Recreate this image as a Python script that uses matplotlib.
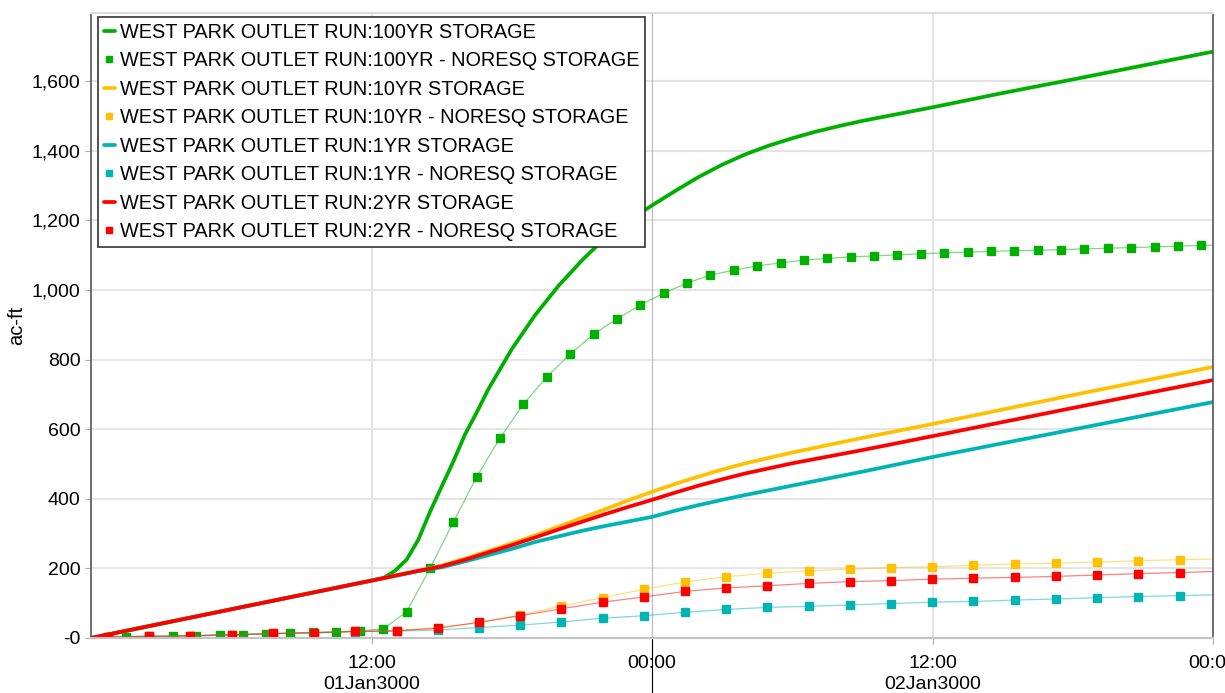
import numpy as np
import matplotlib.pyplot as plt
from matplotlib.transforms import blended_transform_factory

plt.rcParams['font.family'] = ['Liberation Sans', 'DejaVu Sans']

# hours since 01Jan3000 00:00
t_100 = [0, 12, 12.5, 13, 13.5, 14, 14.5, 15, 15.5, 16, 16.5, 17, 18, 19, 20, 21, 22, 23,
         24, 25, 26, 27, 28, 29, 30, 31, 32, 33, 36, 39, 42, 45, 48]
s_100 = [0, 165, 172, 193, 225, 282, 362, 435, 507, 585, 648, 715, 830, 928, 1012, 1085, 1150, 1200,
         1243, 1285, 1325, 1360, 1390, 1415, 1436, 1455, 1471, 1486, 1525, 1566, 1605, 1645, 1685]

t_low = [0, 12, 14, 15, 16, 17, 18, 19, 20, 21, 22, 23, 24, 25, 26, 27, 28, 30, 33, 36, 42, 48]
s_10 = [0, 165, 193, 208, 228, 250, 272, 295, 320, 345, 370, 396, 420, 443, 464, 484, 502, 533,
        575, 615, 698, 779]
s_2 = [0, 165, 193, 206, 225, 246, 267, 289, 312, 334, 356, 377, 397, 418, 438, 456, 473, 502,
       540, 580, 661, 741]
s_1 = [0, 165, 192, 203, 220, 238, 256, 276, 292, 308, 322, 335, 348, 366, 382, 397, 411, 438,
       478, 520, 599, 678]

# NORESQ runs, sampled values
t_nr100 = np.arange(1.5, 48, 1.0)
nr_100 = [3, 4, 5, 7, 9, 10, 12, 14, 16, 18, 20, 26, 75, 200, 333, 463, 575, 672, 750, 816,
          873, 917, 957, 991, 1020, 1043, 1057, 1069, 1078, 1086, 1091, 1095, 1098, 1101, 1104,
          1107, 1109, 1111, 1113, 1114, 1116, 1118, 1120, 1122, 1124, 1126, 1128]
nr100_end = 1129

t_nr = 0.73 + 1.763 * np.arange(27)
nr_10 = [3, 5, 6, 9, 13, 15, 19, 21, 30, 44, 66, 92, 116, 140, 161, 176, 186, 193, 198, 202,
         205, 209, 213, 215, 218, 222, 225]
nr_2 = [3, 5, 6, 9, 13, 15, 19, 21, 28, 45, 64, 84, 103, 118, 134, 144, 150, 157, 162, 165,
        169, 172, 174, 177, 181, 185, 188]
nr_1 = [3, 5, 6, 9, 12, 15, 18, 20, 23, 30, 37, 46, 57, 64, 74, 82, 88, 91, 95, 99, 103, 105,
        109, 112, 116, 119, 122]
nr_end = {'10': 227, '2': 191, '1': 124}

green = '#00b000'
gold = '#ffc000'
teal = '#00b4b4'
red = '#ff0000'

fig = plt.figure(figsize=(12.25, 6.93), dpi=100)
ax = fig.add_axes([91 / 1225, 1 - 638 / 693, 1122 / 1225, 625 / 693])


def noresq(t, v, end, color, label):
    x = np.concatenate([[0], t, [48]])
    y = np.concatenate([[0], v, [end]])
    ax.plot(x, y, '-', color=color, lw=0.9, alpha=0.5)
    ax.plot(t, v, 's', color=color, ms=6, mec=color, label=label)


def storage(t, v, color, label):
    ax.plot(t, v, '-', color=color, lw=2.7, label=label, solid_capstyle='round')


storage(t_100, s_100, green, 'WEST PARK OUTLET RUN:100YR STORAGE')
noresq(t_nr100, nr_100, nr100_end, green, 'WEST PARK OUTLET RUN:100YR - NORESQ STORAGE')
storage(t_low, s_10, gold, 'WEST PARK OUTLET RUN:10YR STORAGE')
noresq(t_nr, nr_10, nr_end['10'], gold, 'WEST PARK OUTLET RUN:10YR - NORESQ STORAGE')
storage(t_low, s_1, teal, 'WEST PARK OUTLET RUN:1YR STORAGE')
noresq(t_nr, nr_1, nr_end['1'], teal, 'WEST PARK OUTLET RUN:1YR - NORESQ STORAGE')
storage(t_low, s_2, red, 'WEST PARK OUTLET RUN:2YR STORAGE')
noresq(t_nr, nr_2, nr_end['2'], red, 'WEST PARK OUTLET RUN:2YR - NORESQ STORAGE')

ax.set_xlim(0, 48)
ax.set_ylim(0, 1796)

yticks = [0, 200, 400, 600, 800, 1000, 1200, 1400, 1600]
ylabels = ['-0', '200', '400', '600', '800', '1,000', '1,200', '1,400', '1,600']
ax.set_yticks(yticks)
ax.set_yticklabels(ylabels)
for y in yticks[1:]:
    ax.axhline(y, color='#e4e4e4', lw=1.5, zorder=0)

xticks = [12, 24, 36, 48]
ax.set_xticks(xticks)
ax.set_xticklabels(['12:00', '00:00', '12:00', '00:00'])
ax.axvline(12, color='#e4e4e4', lw=1.5, zorder=0)
ax.axvline(36, color='#e4e4e4', lw=1.5, zorder=0)
ax.axvline(24, color='#b8b8b8', lw=0.8, zorder=0)

ax.tick_params(axis='both', labelsize=14, colors='#b0b0b0', labelcolor='black', length=4)
ax.tick_params(axis='x', pad=8)
ax.set_ylabel('ac-ft', fontsize=14.5, labelpad=4)

for side in ['left', 'right']:
    ax.spines[side].set_color('#555555')
    ax.spines[side].set_linewidth(1.2)
ax.spines['top'].set_color('#dcdcdc')
ax.spines['top'].set_linewidth(1.5)
ax.spines['bottom'].set_color('#c4c4c4')
ax.spines['bottom'].set_linewidth(1.5)

# day labels under the hour labels
trans = blended_transform_factory(ax.transData, ax.transAxes)
for x, day in [(12, '01Jan3000'), (36, '02Jan3000')]:
    ax.text(x, -0.074, day, transform=trans, ha='center', va='center', fontsize=14)
ax.plot([24, 24], [0, -0.1], transform=trans, color='black', lw=0.8, clip_on=False)

leg = ax.legend(loc='upper left', bbox_to_anchor=(0.006, 0.994), borderaxespad=0,
                fontsize=14.3, fancybox=False, framealpha=1, edgecolor='#333333',
                handlelength=0.55, handletextpad=0.25, labelspacing=0.48,
                borderpad=0.3, markerscale=0.7)
leg.get_frame().set_linewidth(1.2)

fig.savefig('out.png', dpi=100)
